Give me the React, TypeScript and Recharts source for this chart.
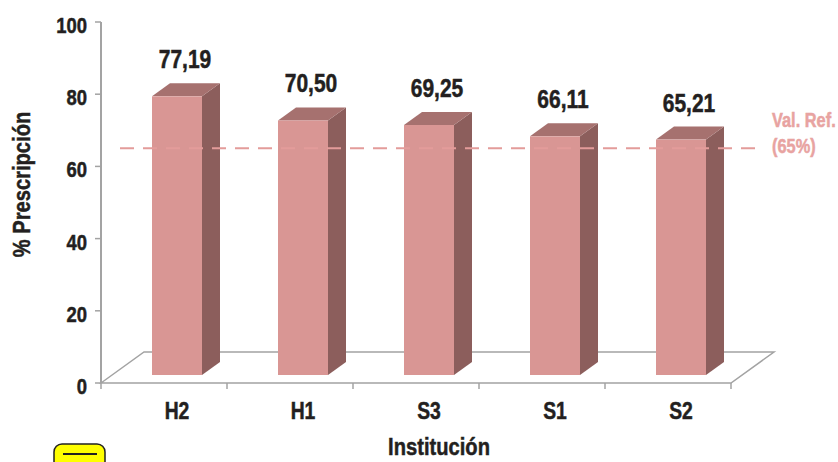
import React from 'react';
import { BarChart, Bar, XAxis, YAxis, ReferenceLine, ReferenceArea, LabelList } from 'recharts';

const categories = ['H2', 'H1', 'S3', 'S1', 'S2'];
const prescripcion = [77.19, 70.5, 69.25, 66.11, 65.21];
const yTicks = [0, 20, 40, 60, 80, 100];
const refValue = 65;
const refLabel = ['Val. Ref.', '(65%)'];
const yTitle = '% Prescripción';
const xTitle = 'Institución';

const data = categories.map((c, i) => ({ name: c, value: prescripcion[i] }));

const FONT = '"Liberation Sans", Arial, sans-serif';
const NARROW = 0.84;
const DX = 18;
const DY = 13;
const SHIFT_X = 13;
const SHIFT_Y = 8;
const FDX = 43;
const FDY = 31;
const GRAY = '#A3A3A3';
const INK = '#231F20';

const fmt = (v: number) => v.toFixed(2).replace('.', ',');

const CText = ({ x, y, size, fill = INK, anchor = 'start', rotate = 0, children }: any) => (
  <text
    x={0}
    y={0}
    transform={`translate(${x} ${y}) rotate(${rotate}) scale(${NARROW} 1)`}
    textAnchor={anchor}
    fontFamily={FONT}
    fontWeight="bold"
    fontSize={size}
    fill={fill}
    stroke={fill}
    strokeWidth={0.5}
  >
    {children}
  </text>
);

const Bar3D = (props: any) => {
  const { x, y, width, height } = props;
  const fx = x + SHIFT_X;
  const ty = y - SHIFT_Y;
  const by = y + height - SHIFT_Y;
  const w = width;
  return (
    <g>
      <polygon
        points={`${fx + w},${ty} ${fx + w + DX},${ty - DY} ${fx + w + DX},${by - DY} ${fx + w},${by}`}
        fill="#8C5E5C"
      />
      <polygon
        points={`${fx},${ty} ${fx + DX},${ty - DY} ${fx + w + DX},${ty - DY} ${fx + w},${ty}`}
        fill="#A6716F"
      />
      <rect x={fx} y={ty} width={w} height={by - ty} fill="#D99694" />
    </g>
  );
};

const ValueLabel = (props: any) => {
  const { x, y, width, value } = props;
  const cx = x + SHIFT_X + width / 2 + 8;
  const by = y - SHIFT_Y - DY - 15;
  return (
    <CText x={cx} y={by} size={25} anchor="middle">
      {fmt(Number(value))}
    </CText>
  );
};

const Floor = (props: any) => {
  const { x, y, width, height } = props;
  const fy = y + height;
  const n = categories.length;
  const bw = width / n;
  const ticks = [];
  for (let i = 0; i <= n; i++) {
    ticks.push(<line key={i} x1={x + i * bw} y1={fy} x2={x + i * bw} y2={fy + 6} stroke={GRAY} strokeWidth={1.5} />);
  }
  return (
    <g>
      <polygon
        points={`${x},${fy} ${x + FDX},${fy - FDY} ${x + width + FDX},${fy - FDY} ${x + width},${fy}`}
        fill="#FFFFFF"
        stroke={GRAY}
        strokeWidth={1.5}
      />
      {ticks}
    </g>
  );
};

const RefShape = (props: any) => {
  const { x1, y1, x2, y2 } = props;
  return (
    <g>
      <line
        x1={x1 + 19}
        y1={y1}
        x2={x2 + 31}
        y2={y2}
        stroke="#E39C9A"
        strokeWidth={2}
        strokeDasharray="14 9"
      />
      <CText x={x2 + 41} y={y1 - 21} size={19.5} fill="#E8A3A1">
        {refLabel[0]}
      </CText>
      <CText x={x2 + 41} y={y1 + 5} size={19.5} fill="#E8A3A1">
        {refLabel[1]}
      </CText>
    </g>
  );
};

const XTick = (props: any) => {
  const { x, y, payload } = props;
  return (
    <CText x={x + SHIFT_X} y={y + 28} size={23} anchor="middle">
      {payload.value}
    </CText>
  );
};

const YTick = (props: any) => {
  const { x, y, payload } = props;
  return (
    <CText x={x - 6} y={y + 11} size={22} anchor="end">
      {payload.value}
    </CText>
  );
};

const XTitle = (props: any) => {
  const vb = props.viewBox || { x: 101, y: 383, width: 630, height: 79 };
  return (
    <CText x={vb.x + vb.width / 2 + 23} y={vb.y + 72} size={24} anchor="middle">
      {xTitle}
    </CText>
  );
};

const YTitle = (props: any) => {
  const vb = props.viewBox || { x: 0, y: 22, width: 101, height: 361 };
  const cx = 30;
  const cy = vb.y + vb.height / 2 - 18;
  return (
    <CText x={cx} y={cy} size={24} anchor="middle" rotate={-90}>
      {yTitle}
    </CText>
  );
};

export default function App() {
  return (
    <div style={{ position: 'relative', width: 838, height: 462, background: '#fff', overflow: 'hidden' }}>
      <style>{`body{margin:0;background:#fff;}`}</style>
      <BarChart
        width={838}
        height={462}
        data={data}
        margin={{ top: 22, right: 107, left: 0, bottom: 0 }}
        barSize={50}
      >
        <ReferenceArea y1={0} y2={100} ifOverflow="visible" shape={<Floor />} />
        <XAxis
          dataKey="name"
          height={79}
          axisLine={false}
          tickLine={false}
          tick={<XTick />}
          interval={0}
          label={<XTitle />}
        />
        <YAxis
          width={101}
          domain={[0, 100]}
          ticks={yTicks}
          interval={0}
          axisLine={{ stroke: GRAY, strokeWidth: 2 }}
          tickLine={{ stroke: GRAY, strokeWidth: 1.5 }}
          tickSize={6}
          tick={<YTick />}
          label={<YTitle />}
        />
        <Bar dataKey="value" shape={<Bar3D />} isAnimationActive={false}>
          <LabelList dataKey="value" content={<ValueLabel />} />
        </Bar>
        <ReferenceLine y={refValue} ifOverflow="visible" shape={<RefShape />} />
      </BarChart>
      <svg style={{ position: 'absolute', left: 0, top: 0 }} width={838} height={462}>
        <rect x={54} y={444} width={51} height={30} rx={8} ry={8} fill="#FFFF00" stroke="#222" strokeWidth={1.5} />
        <line x1={63} y1={454} x2={97} y2={454} stroke="#222" strokeWidth={2} />
      </svg>
    </div>
  );
}
